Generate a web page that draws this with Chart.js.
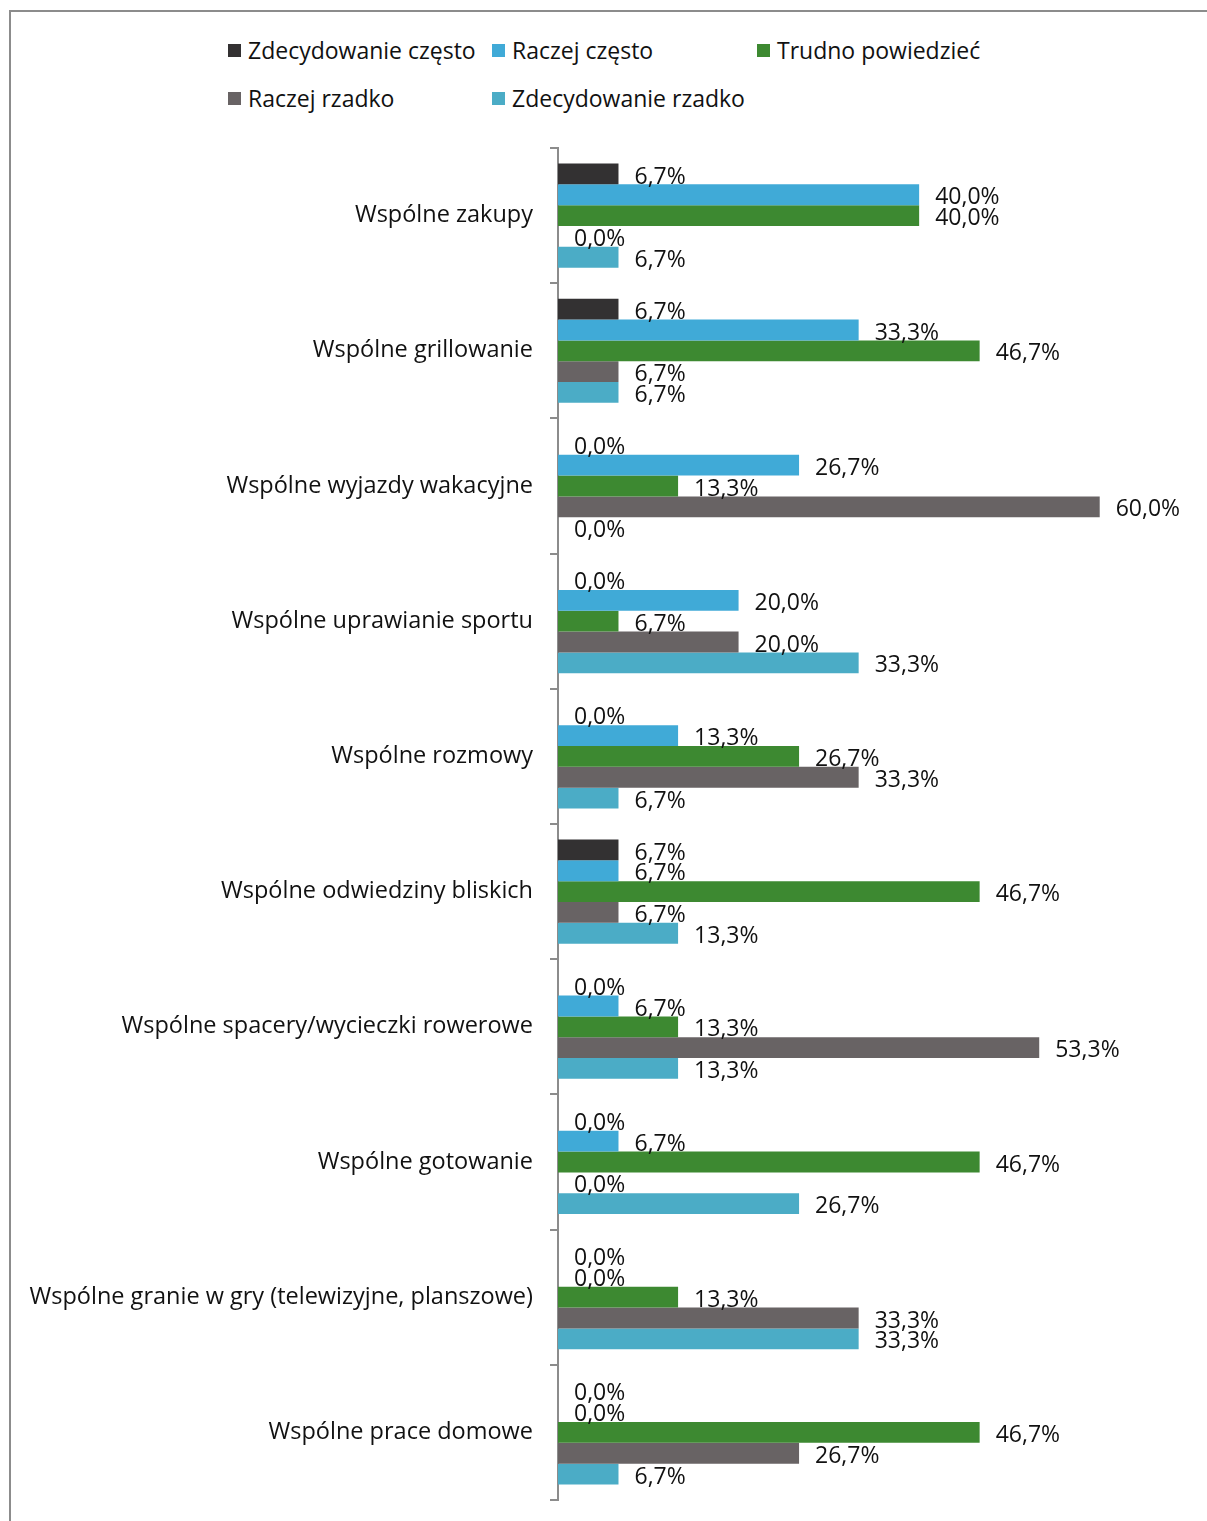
<!DOCTYPE html>
<html>
<head>
<meta charset="utf-8">
<script src="https://cdn.jsdelivr.net/npm/chart.js@4"></script>
<style>
  html, body { margin: 0; padding: 0; background: #fff; }
  #wrap { position: relative; width: 1207px; height: 1521px; overflow: hidden; }
  #frame { position: absolute; left: 9px; top: 10px; width: 1220px; height: 1530px; border: 2px solid #8c8c8c; box-sizing: border-box; }
  #legend { position: absolute; left: 0; top: 0; font-family: "Open Sans", sans-serif; font-size: 23px; color: #111; }
  .item { position: absolute; white-space: nowrap; line-height: 24px; }
  .item span.box { position: absolute; left: 0; top: 6px; width: 13px; height: 13px; }
  .item span.txt { position: absolute; left: 20px; top: 0; }
  canvas { position: absolute; left: 0; top: 0; }
</style>
</head>
<body>
<div id="wrap">
  <div id="frame"></div>
  <div id="legend"></div>
  <canvas id="chart" width="1207" height="1521"></canvas>
</div>
<script>
var categories = [
    'Wspólne zakupy',
    'Wspólne grillowanie',
    'Wspólne wyjazdy wakacyjne',
    'Wspólne uprawianie sportu',
    'Wspólne rozmowy',
    'Wspólne odwiedziny bliskich',
    'Wspólne spacery/wycieczki rowerowe',
    'Wspólne gotowanie',
    'Wspólne granie w gry (telewizyjne, planszowe)',
    'Wspólne prace domowe'
];
var seriesNames = ['Zdecydowanie często', 'Raczej często', 'Trudno powiedzieć', 'Raczej rzadko', 'Zdecydowanie rzadko'];
var zdecydowanieCzesto  = [6.7, 6.7, 0.0, 0.0, 0.0, 6.7, 0.0, 0.0, 0.0, 0.0];
var raczejCzesto        = [40.0, 33.3, 26.7, 20.0, 13.3, 6.7, 6.7, 6.7, 0.0, 0.0];
var trudnoPowiedziec    = [40.0, 46.7, 13.3, 6.7, 26.7, 46.7, 13.3, 46.7, 13.3, 46.7];
var raczejRzadko        = [0.0, 6.7, 60.0, 20.0, 33.3, 6.7, 53.3, 0.0, 33.3, 26.7];
var zdecydowanieRzadko  = [6.7, 6.7, 0.0, 33.3, 6.7, 13.3, 13.3, 26.7, 33.3, 6.7];
var colors = ['rgb(51,49,50)', 'rgb(64,170,215)', 'rgb(61,137,49)', 'rgb(104,99,100)', 'rgb(75,172,198)'];

var FONT = '"Open Sans", sans-serif';

// legend in two rows, fixed columns
var legendPos = [[228, 38], [492, 38], [757, 38], [228, 86], [492, 86]];
var legendEl = document.getElementById('legend');
seriesNames.forEach(function (name, i) {
    var d = document.createElement('div');
    d.className = 'item';
    d.style.left = legendPos[i][0] + 'px';
    d.style.top = legendPos[i][1] + 'px';
    d.innerHTML = '<span class="box" style="background:' + colors[i] + '"></span><span class="txt">' + name + '</span>';
    legendEl.appendChild(d);
});

var valueLabels = {
    id: 'valueLabels',
    afterDatasetsDraw: function (chart) {
        var ctx = chart.ctx;
        ctx.save();
        ctx.font = '23px ' + FONT;
        ctx.fillStyle = '#111';
        ctx.textAlign = 'left';
        ctx.textBaseline = 'middle';
        chart.data.datasets.forEach(function (ds, i) {
            chart.getDatasetMeta(i).data.forEach(function (bar, j) {
                var txt = ds.data[j].toFixed(1).replace('.', ',') + '%';
                ctx.fillText(txt, bar.x + 16, bar.y + 3);
            });
        });
        ctx.restore();
    }
};

var ctx = document.getElementById('chart').getContext('2d');
var myChart = new Chart(ctx, {
    type: 'bar',
    data: {
        labels: categories,
        datasets: [
            { label: seriesNames[0], data: zdecydowanieCzesto, backgroundColor: colors[0] },
            { label: seriesNames[1], data: raczejCzesto, backgroundColor: colors[1] },
            { label: seriesNames[2], data: trudnoPowiedziec, backgroundColor: colors[2] },
            { label: seriesNames[3], data: raczejRzadko, backgroundColor: colors[3] },
            { label: seriesNames[4], data: zdecydowanieRzadko, backgroundColor: colors[4] }
        ]
    },
    options: {
        indexAxis: 'y',
        responsive: false,
        animation: false,
        categoryPercentage: 0.77,
        barPercentage: 1,
        layout: { padding: { left: 0, right: 17, top: 148, bottom: 21 } },
        plugins: {
            legend: { display: false },
            tooltip: { enabled: false }
        },
        scales: {
            x: { display: false, min: 0, max: 70 },
            y: {
                afterFit: function (scale) {
                    scale.width = 558;
                    scale.paddingTop = 0;
                    scale.paddingBottom = 0;
                },
                grid: { drawOnChartArea: false, drawTicks: true, tickLength: 8, color: '#8c8c8c', lineWidth: 2 },
                border: { display: true, color: '#8c8c8c', width: 2 },
                ticks: { color: '#111', padding: 17, font: { family: FONT, size: 23.5 } }
            }
        }
    },
    plugins: [valueLabels]
});
</script>
</body>
</html>
